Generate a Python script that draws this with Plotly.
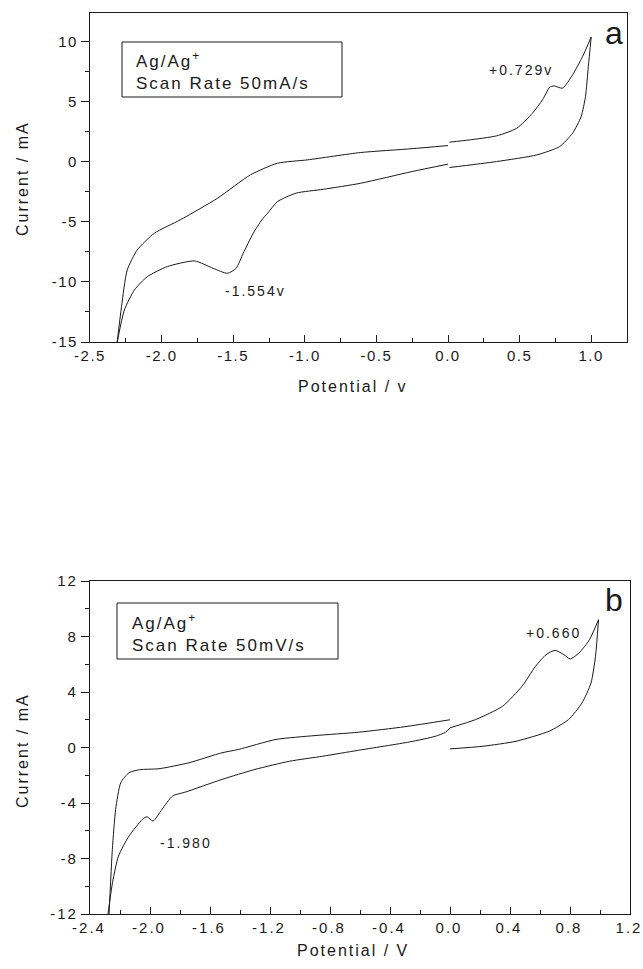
import plotly.graph_objects as go

# ---------------- data: panel a ----------------
a_fwd_v = [0.01, 0.15, 0.34, 0.48, 0.59, 0.66, 0.71, 0.74, 0.80, 0.87, 0.94, 1.0]
a_fwd_i = [1.64, 1.83, 2.17, 2.8, 4.06, 5.17, 6.22, 6.33, 6.14, 7.25, 8.78, 10.4]

a_rev_r_v = [1.0, 0.98, 0.96, 0.93, 0.87, 0.78, 0.62, 0.34, 0.01]
a_rev_r_i = [10.4, 7.94, 5.44, 3.78, 2.39, 1.28, 0.58, 0.03, -0.47]

a_rev_l_v = [0.0, -0.25, -0.61, -0.87, -1.06, -1.19, -1.26, -1.30, -1.36, -1.43,
             -1.48, -1.54, -1.64, -1.77, -1.96, -2.10, -2.19, -2.26, -2.31]
a_rev_l_i = [-0.19, -0.8, -1.78, -2.28, -2.6, -3.3, -4.28, -4.83, -5.94, -7.61,
             -8.86, -9.28, -8.86, -8.25, -8.72, -9.56, -10.67, -12.33, -15.0]

a_ret_v = [-2.31, -2.28, -2.24, -2.17, -2.05, -1.87, -1.61, -1.38, -1.19, -0.98,
           -0.61, -0.25, 0.0]
a_ret_i = [-15.0, -12.06, -9.0, -7.33, -5.94, -4.83, -3.03, -1.08, -0.11, 0.17,
           0.78, 1.1, 1.36]

a_xticks = [-2.5, -2.0, -1.5, -1.0, -0.5, 0.0, 0.5, 1.0]
a_xlabels = ["-2.5", "-2.0", "-1.5", "-1.0", "-0.5", "0.0", "0.5", "1.0"]
a_yticks = [-15, -10, -5, 0, 5, 10]
a_ylabels = ["-15", "-10", "-5", "0", "5", "10"]

# ---------------- data: panel b ----------------
b_fwd_v = [0.0, 0.17, 0.35, 0.48, 0.57, 0.64, 0.70, 0.76, 0.80, 0.86, 0.93, 0.99]
b_fwd_i = [1.42, 2.01, 2.97, 4.41, 5.85, 6.69, 7.0, 6.69, 6.38, 6.81, 7.77, 9.21]

b_rev_v = [0.99, 0.97, 0.94, 0.88, 0.79, 0.66, 0.44, 0.22, 0.0]
b_rev_i = [9.21, 6.57, 4.65, 3.21, 2.01, 1.17, 0.45, 0.09, -0.1]

b_low_v = [-2.28, -2.25, -2.21, -2.14, -2.05, -2.02, -1.98, -1.92, -1.85, -1.76,
           -1.52, -1.30, -1.07, -0.85, -0.61, -0.27, -0.10, -0.03, 0.0]
b_low_i = [-12.0, -9.74, -7.82, -6.38, -5.18, -4.99, -5.3, -4.46, -3.5, -3.2,
           -2.3, -1.58, -0.99, -0.63, -0.2, 0.4, 0.8, 1.1, 1.42]

b_up_v = [-2.273, -2.251, -2.229, -2.195, -2.14, -2.07, -1.94, -1.74, -1.52,
          -1.41, -1.16, -0.90, -0.61, -0.30, 0.0]
b_up_i = [-12.0, -7.34, -4.46, -2.54, -1.82, -1.6, -1.53, -1.1, -0.38,
          -0.14, 0.58, 0.86, 1.1, 1.5, 2.0]

b_xticks = [-2.4, -2.0, -1.6, -1.2, -0.8, -0.4, 0.0, 0.4, 0.8, 1.2]
b_xlabels = ["-2.4", "-2.0", "-1.6", "-1.2", "-0.8", "-0.4", "0.0", "0.4", "0.8", "1.2"]
b_yticks = [-12, -8, -4, 0, 4, 8, 12]
b_ylabels = ["-12", "-8", "-4", "0", "4", "8", "12"]

# ---------------- figure ----------------
W, H = 643, 969
FONT = "Liberation Sans, Arial, sans-serif"
INK = "#1a1a1a"


def fx(p):
    return p / W


def fy(p):
    return 1 - p / H


fig = go.Figure()
line = dict(color=INK, width=1)

for v, i in [(a_fwd_v, a_fwd_i), (a_rev_r_v, a_rev_r_i), (a_rev_l_v, a_rev_l_i), (a_ret_v, a_ret_i)]:
    fig.add_trace(go.Scatter(x=v, y=i, mode="lines", line=dict(**line, shape="spline", smoothing=0.6),
                             xaxis="x", yaxis="y", showlegend=False, hoverinfo="skip"))
for v, i in [(b_fwd_v, b_fwd_i), (b_rev_v, b_rev_i), (b_low_v, b_low_i), (b_up_v, b_up_i)]:
    fig.add_trace(go.Scatter(x=v, y=i, mode="lines", line=dict(**line, shape="spline", smoothing=0.6),
                             xaxis="x2", yaxis="y2", showlegend=False, hoverinfo="skip"))

axis_common = dict(showgrid=False, zeroline=False, showline=True, linecolor=INK, linewidth=1.2,
                   mirror=True, tickcolor=INK, automargin=False,
                   tickfont=dict(family=FONT, size=15, color=INK))

fig.update_layout(
    width=W, height=H,
    margin=dict(l=0, r=0, t=0, b=0, pad=0, autoexpand=False),
    paper_bgcolor="white", plot_bgcolor="white",
    font=dict(family=FONT, color=INK),
    xaxis=dict(**axis_common, domain=[fx(90), fx(627)], range=[-2.5, 1.25],
               tickvals=a_xticks, ticktext=a_xlabels, ticks="inside", ticklen=7,
               minor=dict(dtick=0.25, tick0=-2.5, ticks="inside", ticklen=4, tickcolor=INK),
               anchor="y"),
    yaxis=dict(**axis_common, domain=[fy(342), fy(13)], range=[-15, 12.4],
               tickvals=a_yticks, ticktext=a_ylabels, ticks="outside", ticklen=8,
               minor=dict(dtick=2.5, tick0=-15, ticks="outside", ticklen=4, tickcolor=INK),
               anchor="x"),
    xaxis2=dict(**axis_common, domain=[fx(90), fx(630)], range=[-2.4, 1.2],
                tickvals=b_xticks, ticktext=b_xlabels, ticks="inside", ticklen=7,
                ticklabelshift=-1,
                minor=dict(dtick=0.2, tick0=-2.4, ticks="inside", ticklen=4, tickcolor=INK),
                anchor="y2"),
    yaxis2=dict(**axis_common, domain=[fy(914), fy(581)], range=[-12, 12],
                tickvals=b_yticks, ticktext=b_ylabels, ticks="outside", ticklen=8,
                minor=dict(dtick=2, tick0=-12, ticks="outside", ticklen=4, tickcolor=INK),
                anchor="x2"),
)

# legend-like boxes
for x0, x1, y0, y1 in [(122, 342, 42, 97), (117, 338, 603, 659)]:
    fig.add_shape(type="rect", xref="paper", yref="paper",
                  x0=fx(x0), x1=fx(x1), y0=fy(y1), y1=fy(y0),
                  line=dict(color=INK, width=1), fillcolor="rgba(0,0,0,0)")


def ann(text, x, y, size, xanchor="center", yanchor="middle", angle=0, align="center"):
    fig.add_annotation(text=text, xref="paper", yref="paper", x=fx(x), y=fy(y),
                       xanchor=xanchor, yanchor=yanchor, showarrow=False, textangle=angle,
                       align=align, font=dict(family=FONT, size=size, color=INK))


ann("Ag/Ag<sup>+</sup><br>Scan Rate 50mA/s", 134, 71, 17, xanchor="left", align="left")
ann("Ag/Ag<sup>+</sup><br>Scan Rate 50mV/s", 130, 633, 17, xanchor="left", align="left")
ann("+0.729v", 521, 70, 14)
ann("-1.554v", 255, 291, 14)
ann("+0.660", 553, 633, 14)
ann("-1.980", 186, 843, 14)
ann("a", 615, 33, 32)
ann("b", 615, 600, 32)
ann("Potential / v", 353, 386, 16)
ann("Potential / V", 353, 950, 16)
ann("Current / mA", 22, 179, 16, angle=-90)
ann("Current / mA", 22, 751, 16, angle=-90)

post = ("document.body.style.margin='0';"
        "document.body.style.padding='0';"
        "var s=document.createElement('style');"
        "s.textContent='html,body{margin:0;padding:0;overflow:hidden;}"
        " .main-svg text{letter-spacing:2px;}"
        " .main-svg .xtick text, .main-svg .ytick text{letter-spacing:1.5px;}';"
        "document.head.appendChild(s);")
fig.write_html("out.html", post_script=post, config={"displayModeBar": False})
